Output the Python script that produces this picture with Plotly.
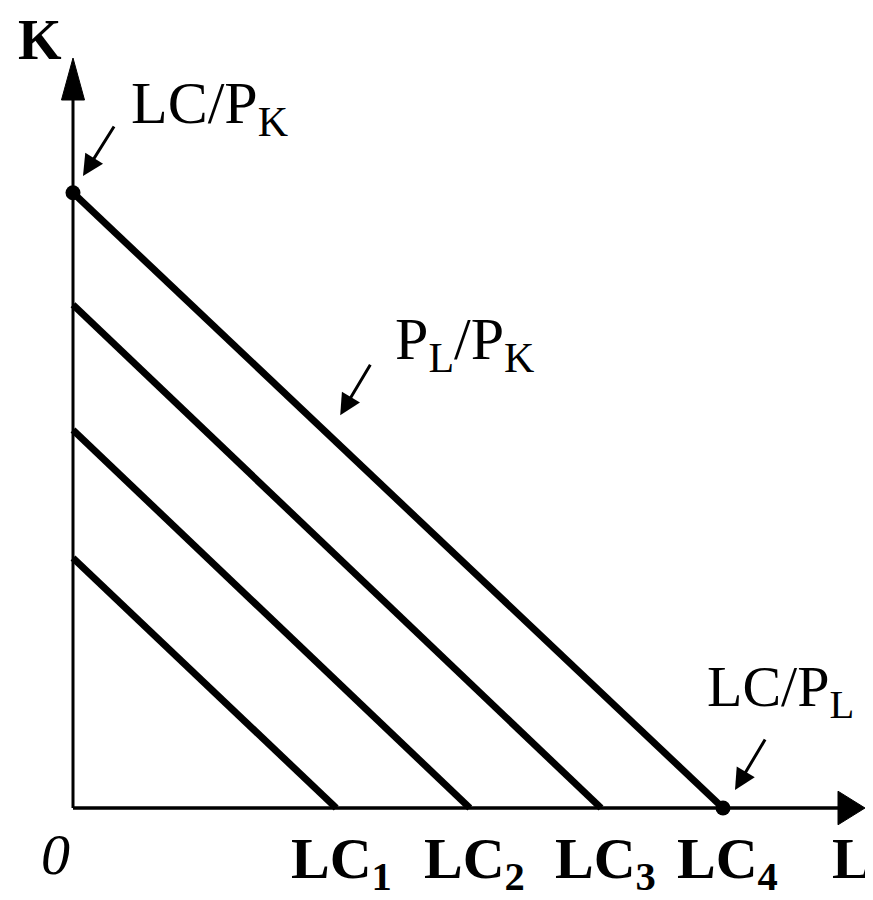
import plotly.graph_objects as go

# Budget (isocost) lines: intercepts on L axis and K axis
line_names = ["LC1", "LC2", "LC3", "LC4"]
l_intercepts = [3.29, 4.96, 6.6, 8.125]
k_intercepts = [3.125, 4.725, 6.29, 7.69]
tick_labels = ["LC<sub>1</sub>", "LC<sub>2</sub>", "LC<sub>3</sub>", "LC<sub>4</sub>"]

# full-figure coordinate frame (80 px per unit, origin at px (65, 800))
X_RANGE = [-0.8125, 10.1]
Y_RANGE = [-1.25, 10.0]
X_AXIS_END = 9.9
Y_AXIS_END = 9.375

SERIF = "Liberation Serif, Times New Roman, serif"

fig = go.Figure()

for name, li, ki in zip(line_names, l_intercepts, k_intercepts):
    fig.add_trace(go.Scatter(x=[0, li], y=[ki, 0], mode="lines", name=name,
                             line=dict(color="black", width=7), hoverinfo="skip",
                             showlegend=False))

# Endpoint dots of outermost line
fig.add_trace(go.Scatter(x=[0, l_intercepts[-1]], y=[k_intercepts[-1], 0], mode="markers",
                         marker=dict(color="black", size=15), showlegend=False, hoverinfo="skip"))

shapes = [
    dict(type="line", x0=0, y0=0, x1=9.6, y1=0, line=dict(color="black", width=3.5), layer="below"),
    dict(type="line", x0=0, y0=0, x1=0, y1=8.9, line=dict(color="black", width=3), layer="below"),
    # arrowheads
    dict(type="path", path=f"M 9.5625 -0.21 L {X_AXIS_END} 0 L 9.5625 0.21 Z",
         fillcolor="black", line=dict(color="black", width=1)),
    dict(type="path", path=f"M -0.144 8.85 L 0 {Y_AXIS_END} L 0.144 8.85 Z",
         fillcolor="black", line=dict(color="black", width=1)),
]

annotations = []
for li, lab in zip(l_intercepts, tick_labels):
    annotations.append(dict(x=li + 0.06, y=-0.2, text=f"<b>{lab}</b>", showarrow=False,
                            xanchor="center", yanchor="top",
                            font=dict(family=SERIF, size=58, color="black")))

ARROW = dict(text="", showarrow=True, arrowhead=2, arrowsize=1.4, arrowwidth=3, arrowcolor="black")

annotations += [
    dict(x=-0.225, y=-0.15, text="<i>0</i>", showarrow=False, xanchor="center", yanchor="top",
         font=dict(family=SERIF, size=58, color="black")),
    dict(x=10.0, y=-0.2, text="<b>L</b>", showarrow=False, xanchor="right", yanchor="top",
         font=dict(family=SERIF, size=58, color="black")),
    dict(x=-0.41, y=9.6, text="<b>K</b>", showarrow=False, xanchor="center", yanchor="middle",
         font=dict(family=SERIF, size=56, color="black")),
    # LC/PK
    dict(x=0.7, y=9.25, text="LC/P<sub>K</sub>", showarrow=False, xanchor="left", yanchor="top",
         font=dict(family=SERIF, size=60, color="black")),
    dict(x=0.125, y=7.9, ax=32, ay=-51, **ARROW),
    # PL/PK
    dict(x=4.0, y=6.3, text="P<sub>L</sub>/P<sub>K</sub>", showarrow=False, xanchor="left", yanchor="top",
         font=dict(family=SERIF, size=60, color="black")),
    dict(x=3.34, y=4.91, ax=31, ay=-52, **ARROW),
    # LC/PL
    dict(x=7.9, y=1.95, text="LC/P<sub>L</sub>", showarrow=False, xanchor="left", yanchor="top",
         font=dict(family=SERIF, size=58, color="black")),
    dict(x=8.275, y=0.225, ax=31, ay=-52, **ARROW),
]

fig.update_layout(
    width=873, height=900,
    margin=dict(l=0, r=0, t=0, b=0, pad=0, autoexpand=False),
    paper_bgcolor="white", plot_bgcolor="white",
    xaxis=dict(range=X_RANGE, visible=False, fixedrange=True),
    yaxis=dict(range=Y_RANGE, visible=False, fixedrange=True),
    shapes=shapes, annotations=annotations, showlegend=False,
)

fig.write_html("out.html")
